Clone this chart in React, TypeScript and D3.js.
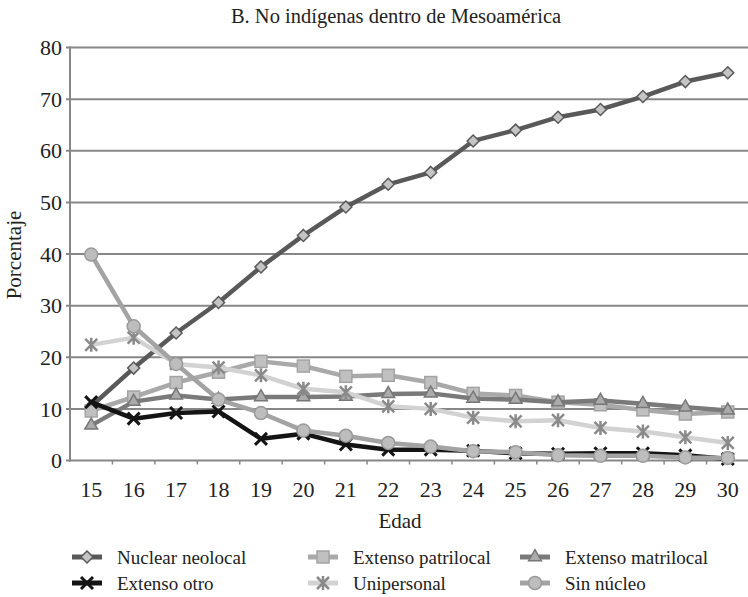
import React from 'react';
import * as d3 from 'd3';

const ages = ['15', '16', '17', '18', '19', '20', '21', '22', '23', '24', '25', '26', '27', '28', '29', '30'];
const nuclearNeolocal = [10.5, 17.9, 24.7, 30.6, 37.5, 43.6, 49.1, 53.5, 55.8, 61.9, 64.0, 66.5, 68.0, 70.5, 73.4, 75.1];
const extensoPatrilocal = [9.6, 12.3, 15.1, 17.1, 19.2, 18.3, 16.3, 16.5, 15.1, 13.0, 12.6, 11.3, 10.8, 9.8, 9.0, 9.4];
const extensoMatrilocal = [6.8, 11.4, 12.6, 11.8, 12.3, 12.3, 12.4, 12.9, 13.0, 12.0, 11.8, 11.3, 11.6, 11.0, 10.3, 9.7];
const extensoOtro = [11.3, 8.1, 9.2, 9.5, 4.2, 5.2, 3.1, 2.1, 2.1, 1.9, 1.4, 1.3, 1.4, 1.4, 1.0, 0.3];
const unipersonal = [22.4, 23.8, 18.7, 18.0, 16.5, 13.9, 13.2, 10.5, 10.0, 8.3, 7.6, 7.8, 6.3, 5.6, 4.5, 3.4];
const sinNucleo = [39.9, 26.0, 18.7, 11.8, 9.2, 5.8, 4.8, 3.4, 2.7, 1.8, 1.6, 1.0, 0.9, 0.9, 0.6, 0.5];
const yTicks = [0, 10, 20, 30, 40, 50, 60, 70, 80];

const series = [
  { name: 'Nuclear neolocal', values: nuclearNeolocal, line: '#595959', marker: 'diamond', fill: '#c4c4c4', mstroke: '#595959' },
  { name: 'Extenso patrilocal', values: extensoPatrilocal, line: '#a9a9a9', marker: 'square', fill: '#c0c0c0', mstroke: '#a3a3a3' },
  { name: 'Extenso matrilocal', values: extensoMatrilocal, line: '#7a7a7a', marker: 'triangle', fill: '#ababab', mstroke: '#777777' },
  { name: 'Extenso otro', values: extensoOtro, line: '#141414', marker: 'x', fill: 'none', mstroke: '#141414' },
  { name: 'Unipersonal', values: unipersonal, line: '#d2d2d2', marker: 'star', fill: 'none', mstroke: '#8a8a8a' },
  { name: 'Sin núcleo', values: sinNucleo, line: '#a3a3a3', marker: 'circle', fill: '#bdbdbd', mstroke: '#9a9a9a' },
];

const fontStyle = { fontFamily: "'Liberation Serif', 'Times New Roman', 'DejaVu Serif', serif" };
const left = 70;
const right = 749;
const top = 47.5;
const bottom = 460.5;

const x = d3.scaleBand().domain(ages).range([left, right]).padding(0);
const y = d3.scaleLinear().domain([0, 80]).range([bottom, top]);

function Marker({ type, cx, cy, fill, stroke }: { type: string; cx: number; cy: number; fill: string; stroke: string }) {
  if (type === 'diamond') {
    return <path d={`M${cx},${cy - 6}L${cx + 6},${cy}L${cx},${cy + 6}L${cx - 6},${cy}Z`} fill={fill} stroke={stroke} strokeWidth={1.5} />;
  }
  if (type === 'square') {
    return <rect x={cx - 6} y={cy - 6} width={12} height={12} fill={fill} stroke={stroke} strokeWidth={1.5} />;
  }
  if (type === 'triangle') {
    const p = d3.symbol(d3.symbolTriangle, 70)();
    return <path d={p || ''} transform={`translate(${cx},${cy})`} fill={fill} stroke={stroke} strokeWidth={1.5} />;
  }
  if (type === 'circle') {
    return <circle cx={cx} cy={cy} r={6.5} fill={fill} stroke={stroke} strokeWidth={1.5} />;
  }
  if (type === 'x') {
    return (
      <path d={`M${cx - 6},${cy - 6}L${cx + 6},${cy + 6}M${cx - 6},${cy + 6}L${cx + 6},${cy - 6}`} stroke={stroke} strokeWidth={3} />
    );
  }
  // star: X with a short vertical stroke
  return (
    <path
      d={`M${cx - 6},${cy - 6}L${cx + 6},${cy + 6}M${cx - 6},${cy + 6}L${cx + 6},${cy - 6}M${cx},${cy - 7}L${cx},${cy + 7}`}
      stroke={stroke}
      strokeWidth={2.5}
    />
  );
}

export default function App() {
  const cx = (a: string) => (x(a) as number) + x.bandwidth() / 2;
  const line = d3
    .line<number>()
    .x((_, i) => cx(ages[i]))
    .y(d => y(d));

  const legendCols = [72, 308, 520];
  const legendRows = [557, 583];

  return (
    <svg width={748} height={597} style={{ position: 'absolute', left: 0, top: 0, background: '#fff' }}>
      <text x={396} y={23} textAnchor="middle" style={fontStyle} fontSize={20.5} fill="#222">
        B. No indígenas dentro de Mesoamérica
      </text>

      {yTicks.map(t => (
        <g key={t}>
          {t > 0 && <line x1={66} x2={right} y1={y(t)} y2={y(t)} stroke="#878787" strokeWidth={2} />}
          {t === 0 && <line x1={66} x2={left} y1={y(t)} y2={y(t)} stroke="#878787" strokeWidth={2} />}
          <text x={62} y={y(t)} dy="0.35em" textAnchor="end" style={fontStyle} fontSize={22} fill="#222">
            {t}
          </text>
        </g>
      ))}
      <line x1={left} x2={left} y1={top - 1} y2={bottom + 1} stroke="#878787" strokeWidth={2} />
      <line x1={left - 1} x2={right} y1={bottom} y2={bottom} stroke="#878787" strokeWidth={2} />
      {ages.map(a => (
        <g key={a}>
          <line x1={(x(a) as number) + x.bandwidth()} x2={(x(a) as number) + x.bandwidth()} y1={bottom} y2={bottom + 4} stroke="#878787" strokeWidth={1.5} />
          <text x={cx(a)} y={497} textAnchor="middle" style={fontStyle} fontSize={22} fill="#222">
            {a}
          </text>
        </g>
      ))}

      <text x={400} y={528} textAnchor="middle" style={fontStyle} fontSize={21} fill="#222">
        Edad
      </text>
      <text transform="translate(21,255) rotate(-90)" textAnchor="middle" style={fontStyle} fontSize={21} fill="#222">
        Porcentaje
      </text>

      {series.map(s => (
        <g key={s.name}>
          <path d={line(s.values) || ''} fill="none" stroke={s.line} strokeWidth={4.5} strokeLinejoin="round" />
          {s.values.map((v, i) => (
            <Marker key={i} type={s.marker} cx={cx(ages[i])} cy={y(v)} fill={s.fill} stroke={s.mstroke} />
          ))}
        </g>
      ))}

      {series.map((s, i) => {
        const lx = legendCols[i % 3];
        const ly = legendRows[Math.floor(i / 3)];
        return (
          <g key={s.name}>
            <line x1={lx} x2={lx + 30} y1={ly} y2={ly} stroke={s.line} strokeWidth={5} />
            <Marker type={s.marker} cx={lx + 15} cy={ly} fill={s.fill} stroke={s.mstroke} />
            <text x={lx + 45} y={ly} dy="0.35em" style={fontStyle} fontSize={19} fill="#222">
              {s.name}
            </text>
          </g>
        );
      })}
    </svg>
  );
}
